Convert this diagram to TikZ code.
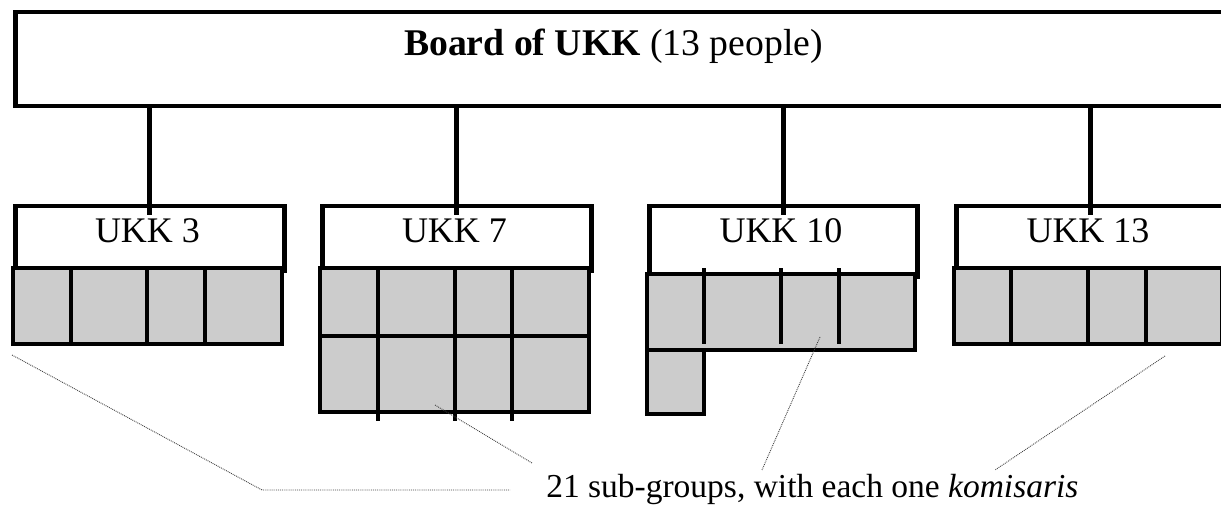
\documentclass[tikz,border=0pt]{standalone}
\usepackage{fontspec}
\setmainfont{Liberation Serif}
\usepackage{xcolor}
\usetikzlibrary{positioning}

\definecolor{cellgray}{RGB}{204,204,204}

\begin{document}
\begin{tikzpicture}[x=1pt,y=-1pt,line width=4.5pt]
\tikzstyle{box}=[draw,rectangle,inner sep=0pt,line width=4.5pt,anchor=north west]
\tikzstyle{cell}=[draw,fill=cellgray,line width=4.5pt]
\tikzstyle{stem}=[line width=5pt]
\tikzstyle{lbl}=[anchor=base,inner sep=0pt,font=\fontsize{36}{40}\selectfont]
\tikzstyle{leader}=[line width=0.9pt,densely dotted,black!75]

\useasboundingbox (0,0) rectangle (1221,505);
\clip (0,0) rectangle (1221,505);

% board
\node[box,minimum width=1209pt,minimum height=94pt] (BOARD) at (13,10) {};
\node[anchor=base,inner sep=0pt,font=\fontsize{37.7}{40}\selectfont] (TITLE) at (613.5,56)
  {\textbf{Board of UKK} (13 people)};

% the four UKK boxes
\node[box,minimum width=269pt,minimum height=64pt] (U3) at (13,204) {};
\node[box,minimum width=269pt,minimum height=64pt] (U7) at (320,204) {};
\node[box,minimum width=268pt,minimum height=70pt] (U10) at (647,204) {};
\node[box,minimum width=268pt,minimum height=64pt] (U13) at (954,204) {};
\node[lbl] (L3) at (147.5,243) {UKK 3};
\node[lbl] (L7) at (454.5,243) {UKK 7};
\node[lbl] (L10) at (781,243) {UKK 10};
\node[lbl] (L13) at (1088,243) {UKK 13};

% sub-groups
\draw[cell] (13,268) rectangle (282,344);
\foreach \x in {71,147,205} \draw (\x,268) -- (\x,344);
\draw[cell] (320,268) rectangle (589,412);
\draw (320,336) -- (589,336);
\foreach \x in {378,455,512} \draw (\x,268) -- (\x,421);
\draw[cell] (647,274) -- (915,274) -- (915,350) -- (704,350) -- (704,414) -- (647,414) -- cycle;
\draw (647,350) -- (704,350);
\foreach \x in {704,781,839} \draw (\x,268) -- (\x,344);
\draw[cell] (954,268) rectangle (1222,344);
\foreach \x in {1011,1088,1146} \draw (\x,268) -- (\x,344);

% stems
\foreach \u in {U3,U7,U10,U13}
  \draw[stem] ([yshift=4pt]BOARD.south -| \u.north) -- ([yshift=-11pt]\u.north);

% note and leaders
\node[anchor=base west,inner sep=0pt,font=\fontsize{33.5}{36}\selectfont] (NOTE) at (544,497)
  {21 sub-groups, with each one \textit{komisaris}};
\coordinate (P3) at (12,355);
\coordinate (B3) at (262,490);
\coordinate (E3) at (510,490);
\coordinate (P7) at (435,405);
\coordinate (E7) at (532,463);
\coordinate (P10) at (820,337);
\coordinate (E10) at (762,470);
\coordinate (P13) at (1165,356);
\coordinate (E13) at (995,470);
\draw[leader] (P3) -- (B3) -- (E3);
\draw[leader] (P7) -- (E7);
\draw[leader] (P10) -- (E10);
\draw[leader] (P13) -- (E13);
\end{tikzpicture}
\end{document}
